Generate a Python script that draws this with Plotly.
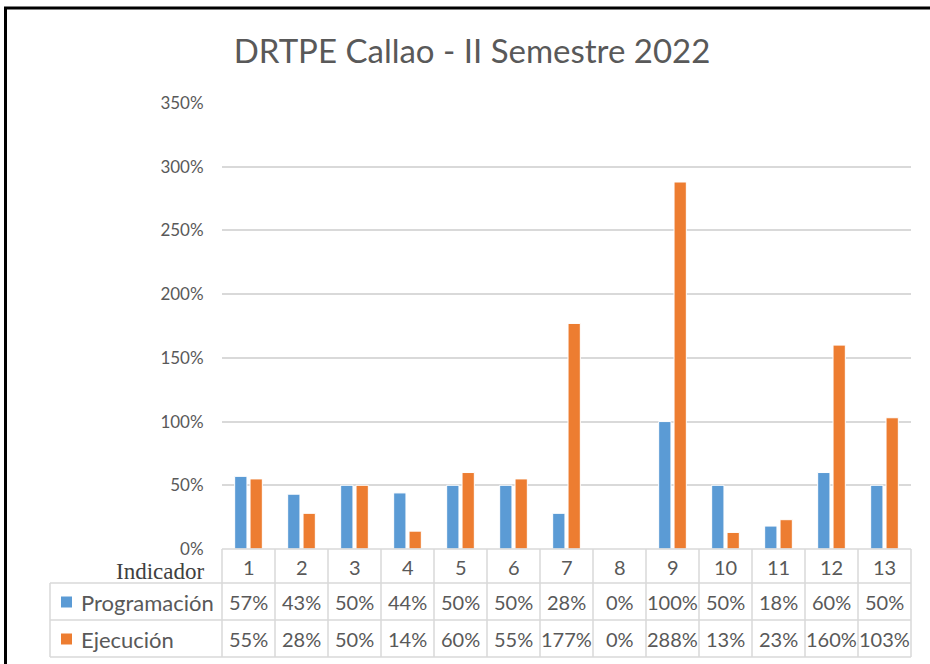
import plotly.graph_objects as go

categories = ["1", "2", "3", "4", "5", "6", "7", "8", "9", "10", "11", "12", "13"]
programacion = [0.57, 0.43, 0.50, 0.44, 0.50, 0.50, 0.28, 0.00, 1.00, 0.50, 0.18, 0.60, 0.50]
ejecucion = [0.55, 0.28, 0.50, 0.14, 0.60, 0.55, 1.77, 0.00, 2.88, 0.13, 0.23, 1.60, 1.03]
series_names = ["Programación", "Ejecución"]
title_text = "DRTPE Callao - II Semestre 2022"
row_header = "Indicador"

BLUE = "#5B9BD5"
ORANGE = "#ED7D31"
TXT = "#595959"
GRID = "#D9D9D9"
FONT = "Lato"

W, H = 930, 664
L, R, T, B = 222, 19, 103, 115
PW = W - L - R
PH = H - T - B


def px_x(px):
    return (px - L) / PW


def px_y(py):
    return (H - B - py) / PH


fig = go.Figure()
fig.add_trace(go.Bar(x=categories, y=programacion, name=series_names[0],
                     marker=dict(color=BLUE, line=dict(color="white", width=1))))
fig.add_trace(go.Bar(x=categories, y=ejecucion, name=series_names[1],
                     marker=dict(color=ORANGE, line=dict(color="white", width=1))))

shapes = []
annotations = []
n = len(categories)
line_style = dict(color=GRID, width=1.5)

# table horizontal lines
y_top = px_y(549)
y_r1 = px_y(583)
y_r2 = px_y(620)
y_bot = px_y(657)
x_left = px_x(50)
shapes.append(dict(type="line", xref="paper", yref="paper", x0=0, x1=1, y0=y_top, y1=y_top, line=line_style))
for yy in (y_r1, y_r2, y_bot):
    shapes.append(dict(type="line", xref="paper", yref="paper", x0=x_left, x1=1, y0=yy, y1=yy, line=line_style))
# vertical lines
for k in range(n + 1):
    shapes.append(dict(type="line", xref="paper", yref="paper", x0=k / n, x1=k / n, y0=y_top, y1=y_bot, line=line_style))
shapes.append(dict(type="line", xref="paper", yref="paper", x0=x_left, x1=x_left, y0=y_r1, y1=y_bot, line=line_style))

# outer frame (top and left)
shapes.append(dict(type="line", xref="paper", yref="paper", x0=px_x(4), x1=px_x(935), y0=px_y(8), y1=px_y(8),
                   line=dict(color="black", width=3)))
shapes.append(dict(type="line", xref="paper", yref="paper", x0=px_x(5.5), x1=px_x(5.5), y0=px_y(7), y1=px_y(670),
                   line=dict(color="black", width=3)))

# legend swatches in table
for yc, col in ((px_y(602), BLUE), (px_y(639), ORANGE)):
    shapes.append(dict(type="rect", xref="paper", yref="paper", x0=px_x(61), x1=px_x(72),
                       y0=yc - 5.5 / PH, y1=yc + 5.5 / PH, fillcolor=col, line=dict(width=0)))

cell_font = dict(family=FONT, size=20, color=TXT)
name_font = dict(family=FONT, size=22, color=TXT)
annotations.append(dict(text=row_header, xref="paper", yref="paper", x=px_x(206), y=px_y(571),
                        xanchor="right", yanchor="middle", showarrow=False,
                        font=dict(family="Liberation Serif", size=23, color="#404040")))
for name, yc in ((series_names[0], px_y(602)), (series_names[1], px_y(639))):
    annotations.append(dict(text=name, xref="paper", yref="paper", x=px_x(79), y=yc,
                            xanchor="left", yanchor="middle", showarrow=False, font=name_font))
for i, c in enumerate(categories):
    annotations.append(dict(text=c, xref="x", yref="paper", x=i, y=px_y(567),
                            xanchor="center", yanchor="middle", showarrow=False, font=cell_font))
    annotations.append(dict(text=f"{programacion[i]:.0%}", xref="x", yref="paper", x=i, y=px_y(602),
                            xanchor="center", yanchor="middle", showarrow=False, font=cell_font))
    annotations.append(dict(text=f"{ejecucion[i]:.0%}", xref="x", yref="paper", x=i, y=px_y(639),
                            xanchor="center", yanchor="middle", showarrow=False, font=cell_font))

fig.update_layout(
    width=W, height=H,
    margin=dict(l=L, r=R, t=T, b=B, pad=0),
    paper_bgcolor="white", plot_bgcolor="white",
    barmode="group", bargap=0.42, bargroupgap=0.2,
    showlegend=False,
    title=dict(text=title_text, x=472 / W, xanchor="center", y=1 - 51 / H, yanchor="middle",
               font=dict(family=FONT, size=33, color=TXT)),
    xaxis=dict(type="category", showticklabels=False, showgrid=False, zeroline=False, showline=False,
               range=[-0.5, n - 0.5], fixedrange=True),
    yaxis=dict(range=[0, 3.5], dtick=0.5, tickformat=".0%", showgrid=True, gridcolor=GRID, gridwidth=1.5,
               zeroline=False, showline=False, ticks="outside", ticklen=14, tickcolor="rgba(0,0,0,0)",
               tickfont=dict(family=FONT, size=17, color=TXT)),
    shapes=shapes,
    annotations=annotations,
)

fig.write_html("out.html", config={"displayModeBar": False},
               post_script="document.body.style.margin='0px';")
